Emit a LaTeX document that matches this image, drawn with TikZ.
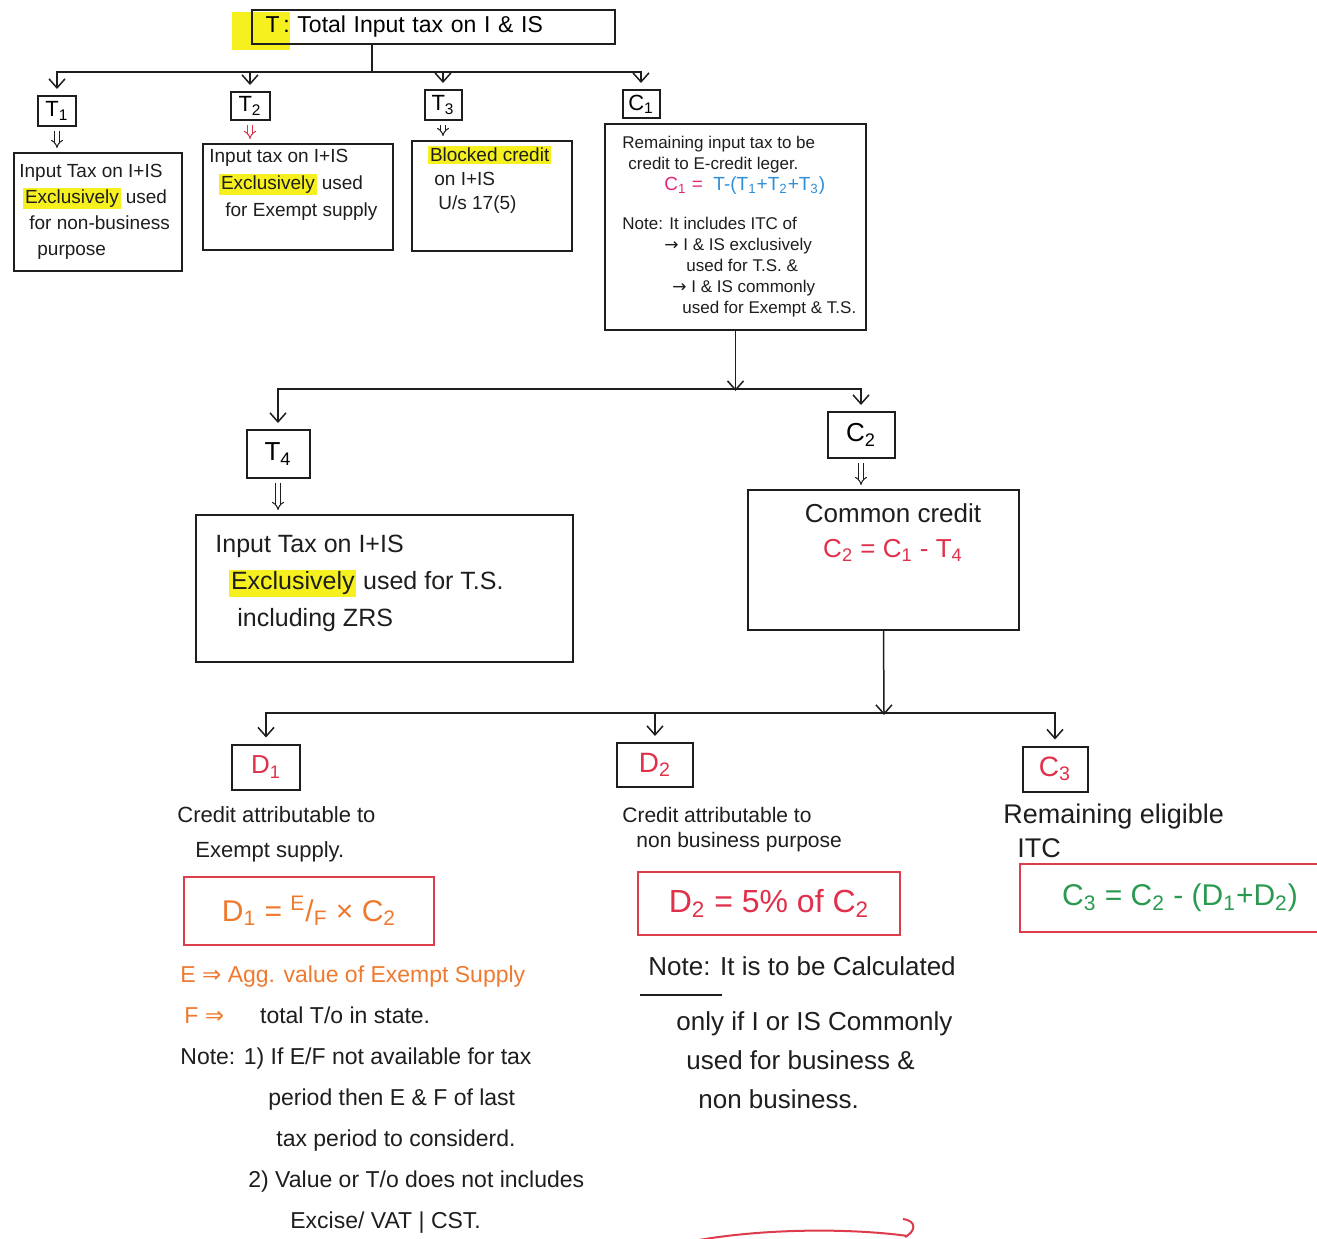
\documentclass[tikz,border=0pt]{standalone}
\usepackage{fontspec}
\setmainfont{Liberation Sans}
\newfontfamily\symf{DejaVu Sans}
\usetikzlibrary{arrows.meta}

\definecolor{ink}{HTML}{1E1E1E}
\definecolor{hlyellow}{HTML}{F5F01E}
\definecolor{boxred}{HTML}{DC3C4C}
\definecolor{txtred}{HTML}{E0304A}
\definecolor{txtorange}{HTML}{EE7A30}
\definecolor{mag}{HTML}{E0287A}
\definecolor{blu}{HTML}{2F8FD8}
\definecolor{grn}{HTML}{2A9A50}

\newcommand{\fsz}[2]{\fontsize{#1}{#2}\selectfont}
\newcommand{\hlt}[1]{{\setlength{\fboxsep}{0.8pt}\colorbox{hlyellow}{#1}}}

\begin{document}
\begin{tikzpicture}[x=0.5pt, y=-0.5pt,
  box/.style={draw=ink, line width=1pt, inner sep=0pt},
  tag/.style={box, font=\fsz{11}{13}},
  rbox/.style={draw=boxred, line width=1pt, inner sep=0pt},
  txt/.style={inner sep=0pt, anchor=north west, align=left, text=ink},
  arr/.style={draw=ink, line width=0.75pt, shorten >=3pt,
              -{Straight Barb[length=4.5pt,width=8pt]}},
  dbl/.style={draw=ink, double=white, line width=0.5pt, double distance=1.6pt,
              shorten <=2pt, shorten >=2pt, -{Implies}},
  line/.style={draw=ink, line width=0.75pt}]

\useasboundingbox (0,0) rectangle (1317,1238);
\fill[white] (0,0) rectangle (1317,1238);

% ---------- level 0: total input tax ----------
\fill[hlyellow] (232,12) rectangle (290,50);
\node[box, minimum width=181.5pt, minimum height=17pt, inner xsep=7pt,
      text width=167.5pt, align=left, font=\fsz{11.5}{13}]
  (top) at (433,27) {T\,:\ Total Input tax on I \& IS};

% ---------- level 1 tags ----------
\node[tag, minimum width=19pt,   minimum height=15pt] (t1)  at (57,111)  {T\textsubscript{1}};
\node[tag, minimum width=19.5pt, minimum height=14pt] (t2)  at (250,106) {T\textsubscript{2}};
\node[tag, minimum width=18.5pt, minimum height=15pt] (t3)  at (443,105) {T\textsubscript{3}};
\node[tag, minimum width=18.5pt, minimum height=14pt] (c1t) at (641,104) {C\textsubscript{1}};

% ---------- level 1 description boxes ----------
\node[box, minimum width=84pt,   minimum height=59pt]  (t1d) at (98,212)    {};
\node[box, minimum width=95pt,   minimum height=53pt]  (t2d) at (298,197)   {};
\node[box, minimum width=80pt,   minimum height=55pt]  (t3d) at (492,196)   {};
\node[box, minimum width=130.5pt,minimum height=103pt] (c1d) at (735.5,227) {};

\node[txt, font=\fsz{9.5}{13}] (t1x) at (19,164)
  {Input Tax on I+IS\\\hspace*{2pt}\hlt{Exclusively} used\\\hspace*{5pt}for non-business\\\hspace*{9pt}purpose};
\node[txt, font=\fsz{9.5}{13.5}] (t2x) at (209,149)
  {Input tax on I+IS\\\hspace*{5pt}\hlt{Exclusively} used\\\hspace*{8pt}for Exempt supply};
\node[txt, font=\fsz{9.5}{12}] (t3x) at (428,146)
  {\hlt{Blocked credit}\\\hspace*{3pt}on I+IS\\\hspace*{5pt}U/s 17(5)};
\node[txt, font=\fsz{8.5}{10.5}] (c1x) at (622,136)
  {Remaining input tax to be\\
   \hspace*{3pt}credit to E-credit leger.\\
   \hspace*{21pt}{\fsz{9.5}{10.5}\textcolor{mag}{C\textsubscript{1} =}\ \ \textcolor{blu}{T-(T\textsubscript{1}+T\textsubscript{2}+T\textsubscript{3})}}\\[9pt]
   Note: It includes ITC of\\
   \hspace*{21pt}{\symf →} I \& IS exclusively\\
   \hspace*{32pt}used for T.S. \&\\
   \hspace*{25pt}{\symf →} I \& IS commonly\\
   \hspace*{30pt}used for Exempt \& T.S.};

% ---------- connectors level 0 -> 1 ----------
\coordinate (j1) at (372,72);
\draw[line] (top.south -| j1) -- (j1);
\draw[arr] (j1) -| (t1.north);
\draw[arr] (j1) -| (t2.north);
\draw[arr] (j1) -| (t3.north);
\draw[arr] (j1) -| (c1t.north);
\draw[dbl] (t1.south) -- (t1d.north -| t1.south);
\draw[dbl, draw=txtred] (t2.south) -- (t2d.north -| t2.south);
\draw[dbl] (t3.south) -- (t3d.north -| t3.south);

% ---------- level 2 ----------
\node[tag, minimum width=31.5pt, minimum height=24pt, font=\fsz{13}{15}] (t4)  at (278,454) {T\textsubscript{4}};
\node[tag, minimum width=33.5pt, minimum height=23pt, font=\fsz{13}{15}] (c2t) at (861,435) {C\textsubscript{2}};
\node[box, minimum width=188.5pt, minimum height=73.5pt] (t4d) at (384.5,588.5) {};
\node[box, minimum width=135.5pt, minimum height=70pt]   (c2d) at (883.5,560)   {};

\node[txt, font=\fsz{12.5}{18.5}] (t4x) at (215,535)
  {Input Tax on I+IS\\\hspace*{7pt}\hlt{Exclusively} used for T.S.\\\hspace*{11pt}including ZRS};
\node[txt, anchor=north, align=center, font=\fsz{13}{17.5}] (c2x) at (893,503)
  {Common credit\\\textcolor{txtred}{C\textsubscript{2} = C\textsubscript{1} - T\textsubscript{4}}};

\coordinate (j2) at (735.5,389);
\draw[line, shorten >=-1pt, -{Straight Barb[length=4.5pt,width=8pt]}] (c1d.south) -- (j2);
\draw[arr] (j2) -| (t4.north);
\draw[arr] (j2) -| (c2t.north);
\draw[dbl] (t4.south) -- (t4d.north -| t4.south);
\draw[dbl] (c2t.south) -- (c2d.north -| c2t.south);

% ---------- level 3 ----------
\node[tag, minimum width=34pt, minimum height=22.5pt, text=txtred, font=\fsz{13}{15}] (d1t) at (266,767)  {D\textsubscript{1}};
\node[tag, minimum width=38pt, minimum height=22pt,   text=txtred, font=\fsz{14}{16}] (d2t) at (655,765)  {D\textsubscript{2}};
\node[tag, minimum width=32.5pt, minimum height=22.5pt, text=txtred, font=\fsz{14}{16}] (c3t) at (1055,769) {C\textsubscript{3}};

\coordinate (j3) at (884,713);
\draw[line, shorten >=-1pt, -{Straight Barb[length=4.5pt,width=8pt]}] (c2d.south) -- (j3);
\draw[arr] (j3) -| (d1t.north);
\draw[arr] (j3) -| (d2t.north);
\draw[arr] (j3) -| (c3t.north);

% D1 column
\node[txt, font=\fsz{11}{17.5}] (d1x) at (177,806)
  {Credit attributable to\\\hspace*{9pt}Exempt supply.};
\node[rbox, minimum width=125pt, minimum height=34pt, text=txtorange, font=\fsz{15}{17}] (d1f) at (309,911)
  {D\textsubscript{1} = \textsuperscript{E}/\textsubscript{F} × C\textsubscript{2}};
\node[txt, font=\fsz{11.5}{20.5}] (d1n) at (180,965)
  {\textcolor{txtorange}{E {\symf ⇒} Agg. value of Exempt Supply}\\
   \hspace*{2pt}\textcolor{txtorange}{F {\symf ⇒}}\hspace*{18pt}total T/o in state.\\
   Note: 1) If E/F not available for tax\\
   \hspace*{44pt}period then E \& F of last\\
   \hspace*{48pt}tax period to considerd.\\
   \hspace*{34pt}2) Value or T/o does not includes\\
   \hspace*{55pt}Excise/ VAT | CST.};

% D2 column
\node[txt, font=\fsz{10.5}{12.5}] (d2x) at (622,807)
  {Credit attributable to\\\hspace*{7pt}non business purpose};
\node[rbox, minimum width=131pt, minimum height=31.5pt, text=txtred, font=\fsz{16}{18}] (d2f) at (769,903)
  {D\textsubscript{2} = 5\% of C\textsubscript{2}};
\node[txt, font=\fsz{13}{19.5}] (d2n) at (648,956)
  {Note: It is to be Calculated\\[8pt]
   \hspace*{14pt}only if I or IS Commonly\\
   \hspace*{19pt}used for business \&\\
   \hspace*{25pt}non business.};
\draw[line] (640,995) -- (722,995);

% C3 column
\node[txt, font=\fsz{13.5}{17}] (c3x) at (1003,804)
  {Remaining eligible\\\hspace*{7pt}ITC};
\node[rbox, minimum width=160pt, minimum height=34pt, text=grn, font=\fsz{15}{17}] (c3f) at (1180,898)
  {C\textsubscript{3} = C\textsubscript{2} - (D\textsubscript{1}+D\textsubscript{2})};

% red stroke along the lower edge
\draw[boxred, line width=1pt] (688,1242) .. controls (760,1228) and (850,1228) .. (908,1236);
\draw[boxred, line width=1pt] (903,1219) .. controls (918,1221) and (915,1232) .. (905,1237);

\end{tikzpicture}
\end{document}
